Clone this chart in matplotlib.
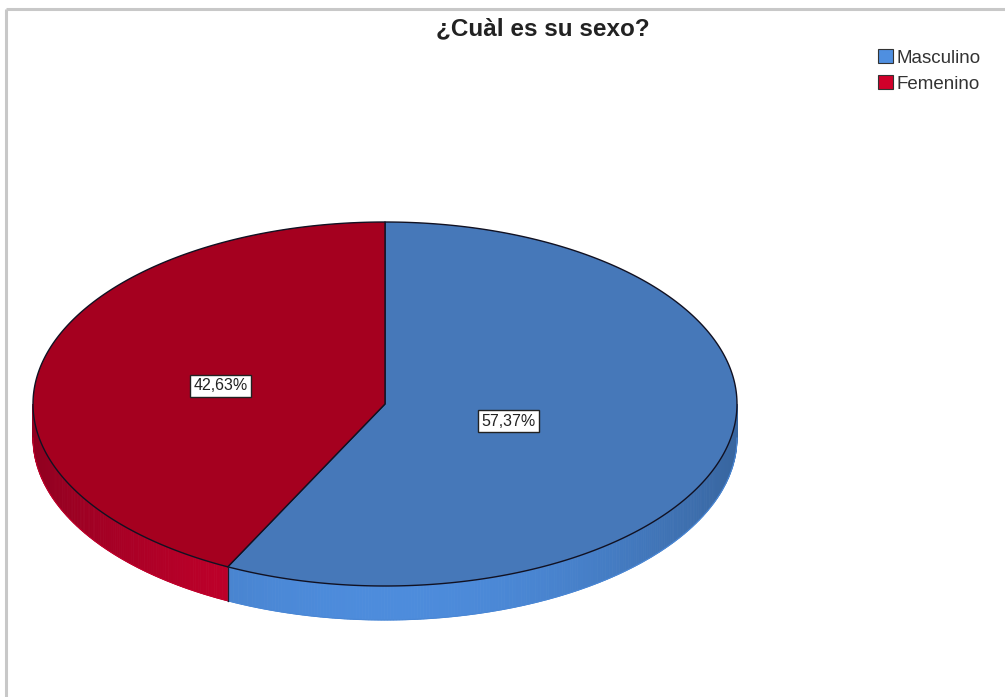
import numpy as np
import matplotlib
matplotlib.use("Agg")
import matplotlib.pyplot as plt
from matplotlib.patches import Polygon, Patch
from matplotlib.colors import to_rgb

plt.rcParams["font.family"] = ["Liberation Sans", "DejaVu Sans"]

title = "¿Cuàl es su sexo?"
categories = ["Masculino", "Femenino"]
percents = [57.37, 42.63]
top_colors = ["#4678b9", "#a5001f"]
side_colors = ["#4d8cdc", "#c8002c"]
legend_colors = ["#4f8fe0", "#d0002a"]
label_radius = [0.36, 0.48]

W, H = 1005, 697
cx, cy = 385, 404
rx, ry = 352, 182
depth = 34


def pt(t, dy=0.0):
    # t in degrees, clockwise from 12 o'clock
    r = np.radians(t)
    return cx + rx * np.sin(r), cy - ry * np.cos(r) + dy


def shade(color, t):
    base = np.array(to_rgb(color))
    f = 1.0 - 0.28 * np.sin(np.radians(t)) ** 2
    return tuple(np.clip(base * f, 0, 1))


fig = plt.figure(figsize=(W / 100, H / 100), dpi=100)
ax = fig.add_axes([0, 0, 1, 1])
ax.set_xlim(0, W)
ax.set_ylim(H, 0)
ax.axis("off")

# outer border (top and left only visible)
ax.plot([6, W], [9, 9], color="#c8c8c8", lw=2.2, solid_capstyle="butt")
ax.plot([6, 6], [9, H], color="#c8c8c8", lw=2.2, solid_capstyle="butt")

angles = np.concatenate([[0], np.cumsum(percents) / 100 * 360])

# side band (front half only: 90..270)
for i, c in enumerate(categories):
    a0, a1 = max(angles[i], 90), min(angles[i + 1], 270)
    if a1 <= a0:
        continue
    ts = np.linspace(a0, a1, int((a1 - a0) * 2) + 2)
    for ta, tb in zip(ts[:-1], ts[1:]):
        p1, p2 = pt(ta), pt(tb)
        p3, p4 = pt(tb, depth), pt(ta, depth)
        ax.add_patch(Polygon([p1, p2, p3, p4], closed=True,
                             facecolor=shade(side_colors[i], (ta + tb) / 2),
                             edgecolor=shade(side_colors[i], (ta + tb) / 2),
                             lw=0.6))
    # bottom edge
    xs, ys = zip(*[pt(t, depth) for t in ts])
    ax.plot(xs, ys, color=shade(side_colors[i], 200), lw=0.8)

# vertical edge at slice boundary on front
for a in angles[1:-1]:
    if 90 < a < 270:
        x0, y0 = pt(a)
        ax.plot([x0, x0], [y0, y0 + depth], color="#1a1a2a", lw=0.9)

# top faces
for i, c in enumerate(categories):
    ts = np.linspace(angles[i], angles[i + 1], 300)
    verts = [(cx, cy)] + [pt(t) for t in ts]
    ax.add_patch(Polygon(verts, closed=True, facecolor=top_colors[i],
                         edgecolor="#111122", lw=1.0, joinstyle="round"))

# labels
for i, c in enumerate(categories):
    mid = (angles[i] + angles[i + 1]) / 2
    r = np.radians(mid)
    x = cx + rx * label_radius[i] * np.sin(r)
    y = cy - ry * label_radius[i] * np.cos(r)
    ax.text(x, y + 2, f"{percents[i]:.2f}%".replace(".", ","), ha="center",
            va="center", fontsize=11.5, color="#222222",
            bbox=dict(boxstyle="square,pad=0.2", fc="white", ec="#222222",
                      lw=1.0))

ax.text(543, 29, title, ha="center", va="center", fontsize=17.5,
        fontweight="bold", color="#222222")

handles = [Patch(facecolor=legend_colors[i], edgecolor="#333333", lw=0.8,
                 label=c) for i, c in enumerate(categories)]
leg = ax.legend(handles=handles, loc="upper left",
                bbox_to_anchor=(878 / W, 1 - 49 / H), frameon=False,
                fontsize=13.5, handlelength=0.8, handleheight=0.8,
                handletextpad=0.2, labelspacing=0.45, borderpad=0,
                borderaxespad=0)
for t in leg.get_texts():
    t.set_color("#333333")

fig.savefig("out.png", dpi=100)
